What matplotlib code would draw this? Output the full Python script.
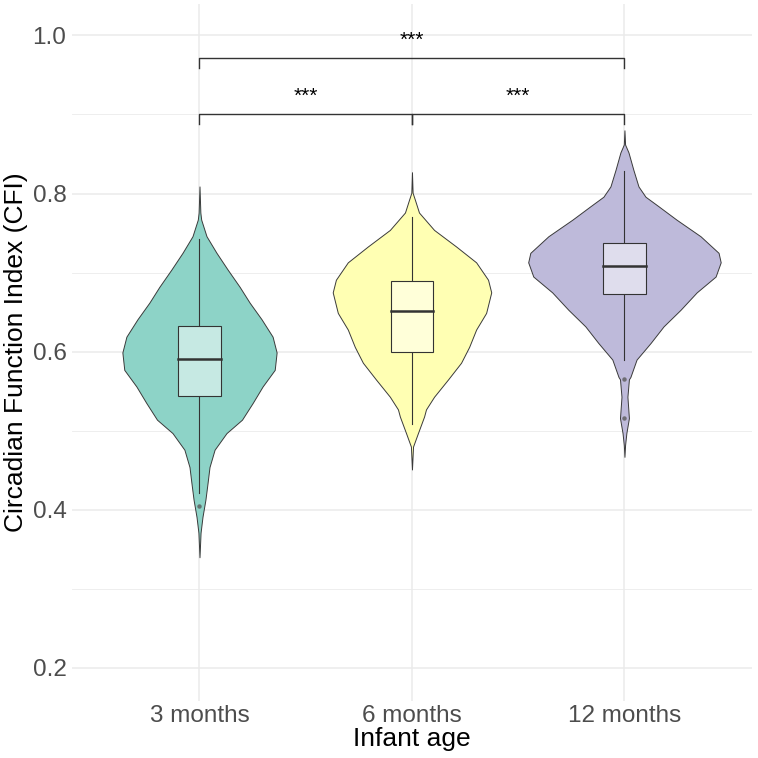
import matplotlib.pyplot as plt

plt.rcParams['font.family'] = ['Liberation Sans', 'DejaVu Sans']

groups = ['3 months', '6 months', '12 months']
violin_colors = ['#8DD3C7', '#FFFFB3', '#BEBADA']
box_colors = ['#C6E9E3', '#FFFFD9', '#DFDDED']

# violin outlines: CFI value and half width (x units)
v1_y = [0.809, 0.776, 0.767, 0.746, 0.725, 0.704, 0.682, 0.662, 0.641, 0.619, 0.599,
        0.577, 0.556, 0.535, 0.514, 0.497, 0.476, 0.454, 0.434, 0.413, 0.391, 0.371, 0.340]
v1_w = [0.0, 0.004, 0.008, 0.033, 0.080, 0.132, 0.189, 0.236, 0.292, 0.344, 0.363,
        0.354, 0.297, 0.250, 0.200, 0.127, 0.071, 0.047, 0.038, 0.028, 0.014, 0.005, 0.0]

v2_y = [0.827, 0.801, 0.792, 0.776, 0.754, 0.733, 0.713, 0.691, 0.675, 0.649, 0.628,
        0.606, 0.586, 0.565, 0.543, 0.527, 0.518, 0.497, 0.480, 0.451]
v2_w = [0.0, 0.003, 0.014, 0.033, 0.104, 0.208, 0.302, 0.358, 0.373, 0.349, 0.302,
        0.269, 0.231, 0.170, 0.104, 0.066, 0.057, 0.028, 0.005, 0.0]

v3_y = [0.880, 0.862, 0.852, 0.830, 0.809, 0.796, 0.784, 0.767, 0.746, 0.725, 0.713,
        0.695, 0.675, 0.653, 0.632, 0.611, 0.590, 0.568, 0.565, 0.543, 0.516, 0.497,
        0.482, 0.467]
v3_w = [0.0, 0.003, 0.019, 0.042, 0.066, 0.099, 0.160, 0.245, 0.358, 0.443, 0.453,
        0.429, 0.340, 0.264, 0.184, 0.123, 0.057, 0.028, 0.021, 0.014, 0.021, 0.009,
        0.003, 0.0]

violins = [(v1_y, v1_w), (v2_y, v2_w), (v3_y, v3_w)]

# box stats: whisker low, q1, median, q3, whisker high
box_stats = [
    [0.421, 0.544, 0.591, 0.632, 0.743],
    [0.508, 0.599, 0.652, 0.689, 0.770],
    [0.590, 0.673, 0.708, 0.737, 0.829],
]
outliers = [[0.405], [], [0.565, 0.516]]

# significance brackets: (x from, x to, height, label)
brackets = [(1, 2, 0.901, '***'), (2, 3, 0.901, '***'), (1, 3, 0.972, '***')]

fig = plt.figure(figsize=(7.58, 7.58), dpi=100)
ax = fig.add_axes([0.095, 0.075, 0.897, 0.920])

for i, (vy, vw) in enumerate(violins):
    x = i + 1
    left = [x - w for w in vw]
    right = [x + w for w in vw]
    ax.fill_betweenx(vy, left, right, facecolor=violin_colors[i],
                     edgecolor='#3a3a3a', linewidth=0.7, zorder=2)

    lo, q1, med, q3, hi = box_stats[i]
    ax.plot([x, x], [hi, q3], color='#333333', lw=0.8, zorder=3)
    ax.plot([x, x], [q1, lo], color='#333333', lw=0.8, zorder=3)
    ax.add_patch(plt.Rectangle((x - 0.1, q1), 0.2, q3 - q1, facecolor=box_colors[i],
                               edgecolor='#333333', lw=0.8, zorder=3))
    ax.plot([x - 0.1, x + 0.1], [med, med], color='#333333', lw=1.8, zorder=4)
    if outliers[i]:
        ax.plot([x] * len(outliers[i]), outliers[i], 'o', ms=3.2, color='#5a5a5a',
                alpha=0.8, mec='none', zorder=4)

for x0, x1, h, lab in brackets:
    ax.plot([x0, x0, x1, x1], [h - 0.013, h, h, h - 0.013], color='#333333', lw=1.0)
    ax.text((x0 + x1) / 2, h + 0.022, lab, ha='center', va='center', fontsize=15)

ax.set_xlim(0.4, 3.6)
ax.set_ylim(0.158, 1.04)
ax.set_xticks([1, 2, 3])
ax.set_xticklabels(groups)
ax.set_yticks([0.2, 0.4, 0.6, 0.8, 1.0])
ax.set_yticks([0.3, 0.5, 0.7, 0.9], minor=True)
ax.yaxis.set_major_formatter(plt.FormatStrFormatter('%.1f'))

ax.grid(which='major', color='#EBEBEB', lw=1.1, zorder=0)
ax.grid(which='minor', axis='y', color='#EBEBEB', lw=0.6, zorder=0)
ax.set_axisbelow(True)
for s in ax.spines.values():
    s.set_visible(False)
ax.tick_params(which='both', length=0, labelsize=17.5, labelcolor='#4D4D4D')
ax.tick_params(axis='x', pad=3)
ax.tick_params(axis='y', pad=4)

ax.set_xlabel('Infant age', fontsize=19, labelpad=0)
ax.set_ylabel('Circadian Function Index (CFI)', fontsize=19, labelpad=3)

fig.savefig('out.png', dpi=100)
